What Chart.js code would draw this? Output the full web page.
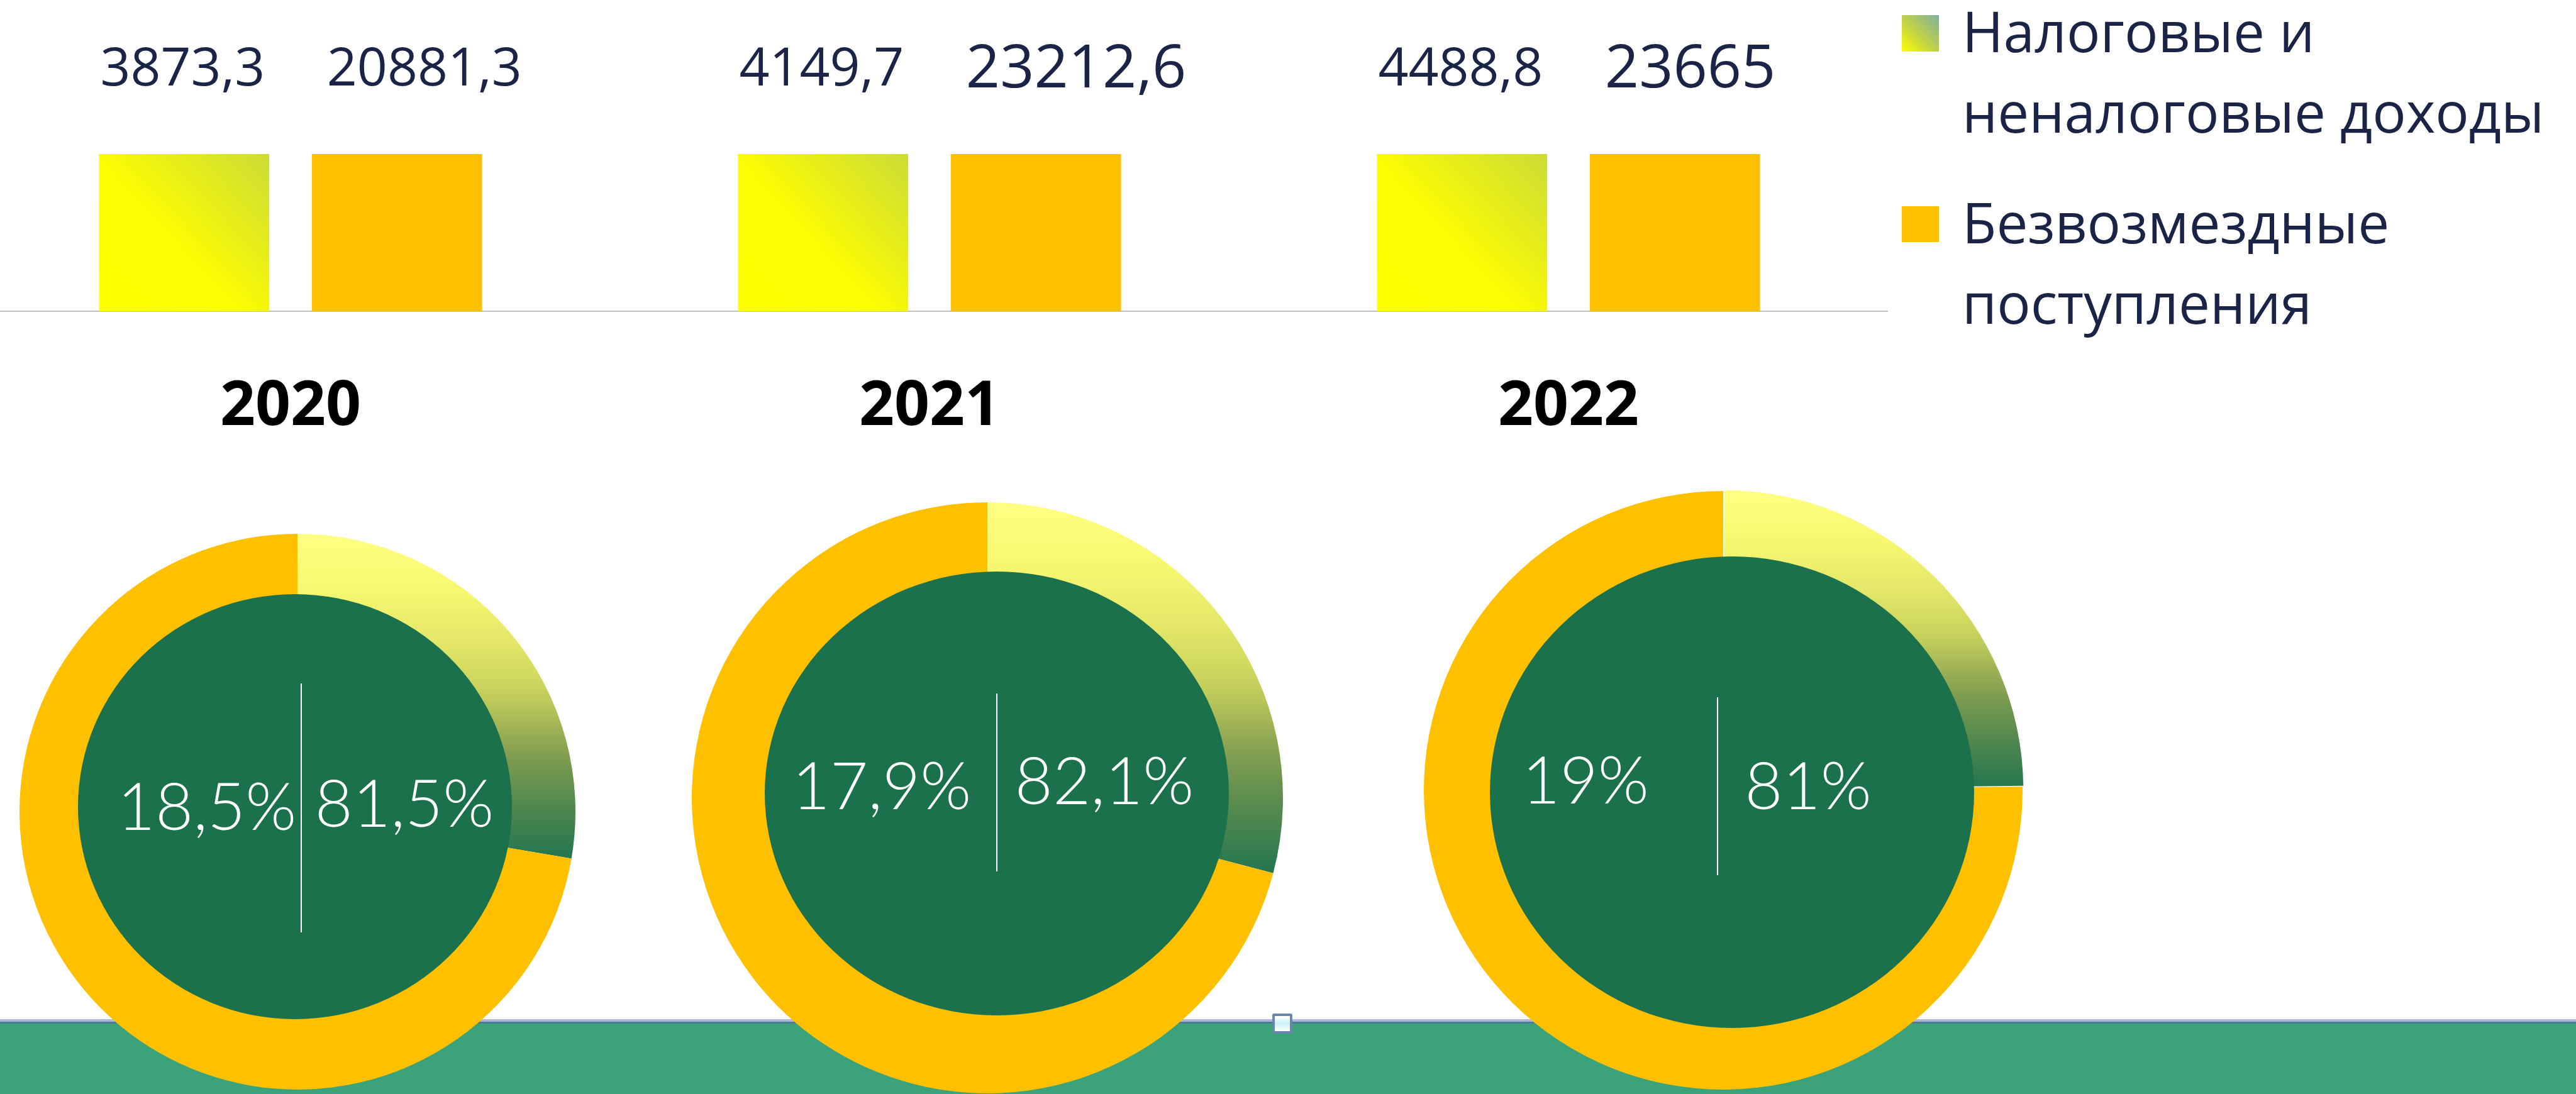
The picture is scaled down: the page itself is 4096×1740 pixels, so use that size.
<!DOCTYPE html>
<html lang="ru">
<head>
<meta charset="utf-8">
<title>Доходы бюджета 2020–2022</title>
<script src="https://cdn.jsdelivr.net/npm/chart.js@4.4.1/dist/chart.umd.min.js"></script>
<style>
  html, body { margin: 0; padding: 0; background: #fff; }
  body { width: 4096px; height: 1740px; position: relative; overflow: hidden; }
  canvas { position: absolute; display: block; }
  #band {
    position: absolute; left: 0; top: 1621px; width: 4096px; height: 119px;
    box-sizing: border-box; background: #3ba27a;
    border-top: 4px solid #aeb7d6; box-shadow: inset 0 3px 0 #4f7a96;
  }
  #handle {
    position: absolute; left: 2023px; top: 1612px; width: 32px; height: 32px;
    box-sizing: border-box; border: 4px solid #6d86ac; border-radius: 3px;
    background: linear-gradient(#ffffff, #c9f1f5 50%, #ffffff);
  }
  .lg-swatch { position: absolute; left: 3024px; width: 59px; height: 58px; }
  .lg-text {
    position: absolute; left: 3120px; white-space: nowrap;
    font-family: 'Open Sans', 'Noto Sans', sans-serif; font-size: 89px; line-height: 128px;
    color: #1b2446;
  }
</style>
</head>
<body>
<div id="band"></div>
<canvas id="bars" width="3048" height="718" style="left:-46px; top:0;"></canvas>
<canvas id="ring0"></canvas>
<canvas id="ring1"></canvas>
<canvas id="ring2"></canvas>
<div id="handle"></div>

<div class="lg-swatch" style="top:24px; background: linear-gradient(to top right, #ffff00 0%, #c2d246 45%, #80b09e 100%);"></div>
<div class="lg-text" style="top:-15px;">Налоговые и<br>неналоговые доходы</div>
<div class="lg-swatch" style="top:328px; height:57px; background:#ffc000;"></div>
<div class="lg-text" style="top:289px;">Безвозмездные<br>поступления</div>

<script>
// ---- data ----
const YEARS = ['2020', '2021', '2022'];
const SERIES = ['Налоговые и неналоговые доходы', 'Безвозмездные поступления'];
const TAX_REVENUE = [3873.3, 4149.7, 4488.8];
const GRATUITOUS = [20881.3, 23212.6, 23665];
const SHARE_TAX = [18.5, 17.9, 19];
const SHARE_FREE = [81.5, 82.1, 81];
// ring split as it is drawn in the picture (start at 12 o'clock, clockwise)
const RING_TAX = [27.7, 29.1, 24.8];
const RING_FREE = [72.3, 70.9, 75.2];

// ---- styling ----
const NAVY = '#1b2446';
const ORANGE = '#ffc000';
const INNER_GREEN = '#1b714b';
const CATEGORY_PCT = 0.666;
const BAR_PCT = 0.8;
const LABEL_SIZE = [[84, 84, 84], [84, 95, 95]];
const LABEL_BASE = [[136, 136, 136], [136, 139, 139]];
const LABEL_SHIFT = [2, 24];

// ring geometry (px) and the centre decoration, relative to ring centre
const RINGS = [
  { cx: 473, cy: 1291, r: 442, cut: 328, offset: 0, gradEnd: 0.17,
    ell: { dx: -4, dy: -8, rx: 345, ry: 338 },
    left: { x: -144, y: 29 }, right: { x: 170, y: 24 }, line: { x: 6, y0: -204, y1: 192 } },
  { cx: 1570, cy: 1269, r: 470, cut: 335, offset: 0, gradEnd: 0.26,
    ell: { dx: 15, dy: -7, rx: 369, ry: 353 },
    left: { x: -168, y: 18 }, right: { x: 186, y: 10 }, line: { x: 15, y0: -166, y1: 117 } },
  { cx: 2740, cy: 1257, r: 476, cut: 359, offset: 7, gradEnd: 0.0,
    ell: { dx: 14, dy: 3, rx: 385, ry: 375 },
    left: { x: -219, y: 21 }, right: { x: 135, y: 30 }, line: { x: -9, y0: -148, y1: 135 } }
];

const fmt = v => String(v).replace('.', ',');

function barGradient(context) {
  const chart = context.chart;
  const area = chart.chartArea;
  const xs = chart.scales.x;
  if (!area || !xs) return '#ffff00';
  const slot = xs.width / YEARS.length;
  const group = slot * CATEGORY_PCT;
  const w = group / 2 * BAR_PCT;
  const bx = xs.getPixelForValue(context.dataIndex) - group / 4;
  const g = chart.ctx.createLinearGradient(bx - w / 2, area.bottom, bx + w / 2, area.top);
  g.addColorStop(0, '#ffff00');
  g.addColorStop(0.45, '#fcfc03');
  g.addColorStop(1, '#cbdb36');
  return g;
}

const valueLabels = {
  id: 'valueLabels',
  afterDatasetsDraw(chart) {
    const ctx = chart.ctx;
    ctx.save();
    ctx.fillStyle = NAVY;
    ctx.textAlign = 'left';
    ctx.textBaseline = 'alphabetic';
    chart.data.datasets.forEach((ds, di) => {
      chart.getDatasetMeta(di).data.forEach((bar, i) => {
        ctx.font = LABEL_SIZE[di][i] + "px 'Open Sans', 'Noto Sans', sans-serif";
        ctx.fillText(fmt(ds.data[i]), bar.x - bar.width / 2 + LABEL_SHIFT[di], LABEL_BASE[di][i]);
      });
    });
    ctx.restore();
  }
};

new Chart(document.getElementById('bars'), {
  type: 'bar',
  data: {
    labels: YEARS,
    datasets: [
      { label: SERIES[0], data: TAX_REVENUE, backgroundColor: barGradient, clip: 0,
        categoryPercentage: CATEGORY_PCT, barPercentage: BAR_PCT },
      { label: SERIES[1], data: GRATUITOUS, backgroundColor: ORANGE, clip: 0,
        categoryPercentage: CATEGORY_PCT, barPercentage: BAR_PCT }
    ]
  },
  options: {
    responsive: false,
    animation: false,
    events: [],
    layout: { padding: { top: 245, left: 0, right: 0, bottom: 0 } },
    plugins: { legend: { display: false }, tooltip: { enabled: false } },
    scales: {
      x: {
        grid: { display: false, drawTicks: false },
        border: { display: true, color: '#c0c0c0', width: 2 },
        ticks: {
          color: '#000',
          padding: 94,
          font: { family: "'Open Sans', 'Noto Sans', sans-serif", size: 98, weight: 'bold' }
        },
        afterFit(scale) { scale.height = 223; }
      },
      y: { display: false, min: 0, max: 3500 }
    }
  },
  plugins: [valueLabels]
});

function ringGradient(context, k) {
  const chart = context.chart;
  const area = chart.chartArea;
  if (!area) return '#ffff80';
  const cy = (area.top + area.bottom) / 2;
  const r = RINGS[k].r;
  const g = chart.ctx.createLinearGradient(0, cy - r, 0, cy + r * RINGS[k].gradEnd);
  g.addColorStop(0, '#ffff82');
  g.addColorStop(0.16, '#f8f870');
  g.addColorStop(0.32, '#e6e86a');
  g.addColorStop(0.43, '#d2da60');
  g.addColorStop(0.51, '#bfcb5b');
  g.addColorStop(0.6, '#9fb155');
  g.addColorStop(0.69, '#7d9c50');
  g.addColorStop(0.82, '#568a4e');
  g.addColorStop(1, '#237550');
  return g;
}

const ringCenter = {
  id: 'ringCenter',
  afterDatasetsDraw(chart, args, opts) {
    const k = opts.index;
    const L = RINGS[k];
    const { ctx, chartArea } = chart;
    const cx = (chartArea.left + chartArea.right) / 2;
    const cy = (chartArea.top + chartArea.bottom) / 2;
    ctx.save();
    ctx.fillStyle = INNER_GREEN;
    ctx.beginPath();
    ctx.ellipse(cx + L.ell.dx, cy + L.ell.dy, L.ell.rx, L.ell.ry, 0, 0, Math.PI * 2);
    ctx.fill();
    ctx.strokeStyle = '#ffffff';
    ctx.lineWidth = 2;
    ctx.beginPath();
    ctx.moveTo(cx + L.line.x, cy + L.line.y0);
    ctx.lineTo(cx + L.line.x, cy + L.line.y1);
    ctx.stroke();
    ctx.fillStyle = '#ffffff';
    ctx.font = "300 104px Lato, 'Open Sans', sans-serif";
    ctx.textAlign = 'center';
    ctx.textBaseline = 'alphabetic';
    ctx.fillText(fmt(SHARE_TAX[k]) + '%', cx + L.left.x, cy + L.left.y);
    ctx.fillText(fmt(SHARE_FREE[k]) + '%', cx + L.right.x, cy + L.right.y);
    ctx.restore();
  }
};

RINGS.forEach((L, k) => {
  const canvas = document.getElementById('ring' + k);
  const size = 2 * (L.r + 14);
  canvas.width = size;
  canvas.height = size;
  canvas.style.left = (L.cx - size / 2) + 'px';
  canvas.style.top = (L.cy - size / 2) + 'px';
  new Chart(canvas, {
    type: 'doughnut',
    data: {
      labels: SERIES,
      datasets: [{
        data: [RING_TAX[k], RING_FREE[k]],
        backgroundColor: c => c.dataIndex === 0 ? ringGradient(c, k) : ORANGE,
        borderWidth: 0,
        offset: [L.offset, 0]
      }]
    },
    options: {
      responsive: false,
      animation: false,
      events: [],
      radius: L.r,
      cutout: L.cut,
      rotation: 0,
      plugins: { legend: { display: false }, tooltip: { enabled: false }, ringCenter: { index: k } }
    },
    plugins: [ringCenter]
  });
});
</script>
</body>
</html>
